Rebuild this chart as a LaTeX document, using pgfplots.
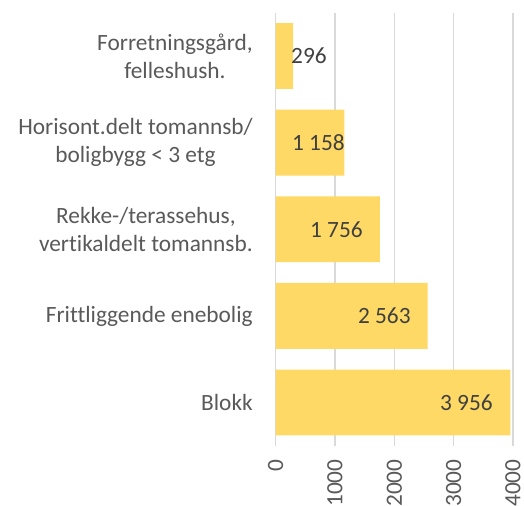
\documentclass[border=0pt]{standalone}
\usepackage{pgfplots}
\pgfplotsset{compat=1.18}
\usepackage{fontspec}
\setmainfont{Carlito}[Ligatures=NoCommon]
\definecolor{barfill}{HTML}{FFD966}
\definecolor{gridc}{HTML}{D9D9D9}
\definecolor{labc}{HTML}{595959}
\definecolor{valc}{HTML}{404040}

\begin{document}
\begin{tikzpicture}
\useasboundingbox (-206.8pt,-44.7pt) rectangle (186.3pt,334.5pt);
\begin{axis}[
  at={(0,0)}, anchor=south west,
  scale only axis, width=178pt, height=325pt,
  xmin=0, xmax=4000, ymin=0.5, ymax=5.5,
  xtick={0,1000,2000,3000,4000},
  ytick={1,2,3,4,5},
  yticklabels={Blokk, Frittliggende enebolig, {Rekke-/terassehus,\\vertikaldelt tomannsb.}, {Horisont.delt tomannsb/\\boligbygg < 3 etg}, {Forretningsgård,\\felleshush.}},
  axis line style={draw=none},
  major tick length=0pt,
  xmajorgrids, ymajorgrids=false,
  major grid style={draw=gridc, line width=0.9pt},
  /pgf/number format/assume math mode=true,
  /pgf/number format/1000 sep={},
  tick label style={font=\fontsize{17.5}{21}\selectfont, text=labc},
  yticklabel style={align=center, anchor=east, inner sep=0pt, xshift=-17pt},
  xticklabel style={rotate=90, anchor=east, inner sep=0pt},
  xticklabel shift=10pt,
  clip=false,
]
\addplot[xbar, bar width=0.76, bar shift=0pt, fill=barfill, draw=none]
  coordinates {(3956,1) (2563,2) (1756,3) (1158,4) (296,5)};
\addplot[draw=none, mark=none, nodes near coords, point meta=explicit symbolic,
  every node near coord/.style={anchor=east, inner sep=0pt,
    font=\fontsize{17.5}{21}\selectfont, text=valc}]
  coordinates {(3663,1) [3 956] (2280,2) [2 563] (1471,3) [1 756] (1168,4) [1 158] (864,5) [296]};
\end{axis}
\end{tikzpicture}
\end{document}
